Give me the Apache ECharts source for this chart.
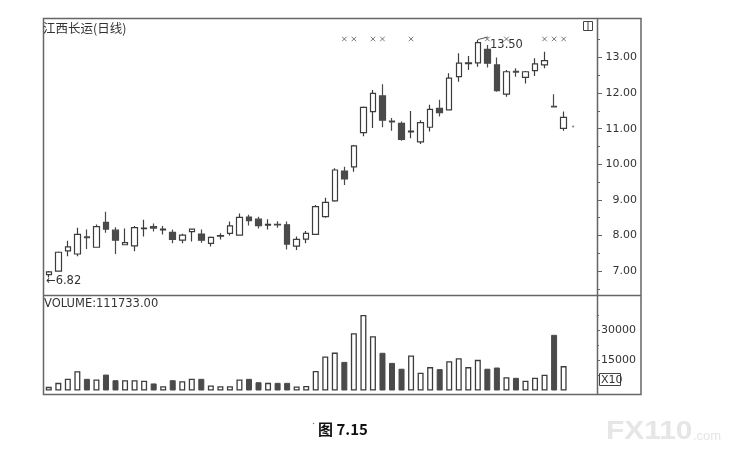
<!DOCTYPE html>
<html><head><meta charset="utf-8">
<script src="https://cdn.jsdelivr.net/npm/echarts@6.0.0/dist/echarts.min.js"></script>
<style>html,body{margin:0;padding:0;background:#fff}#c{width:731px;height:456px}</style>
</head><body><div id="c"></div>
<script>
// ---- data ----
const categories = ['1','2','3','4','5','6','7','8','9','10','11','12','13','14','15','16','17','18','19','20',
  '21','22','23','24','25','26','27','28','29','30','31','32','33','34','35','36','37','38','39','40',
  '41','42','43','44','45','46','47','48','49','50','51','52','53','54','55','56','57','58'];
const opens  = [6.90,7.00,7.57,7.48,7.96,7.67,8.37,8.15,7.74,7.71,8.19,8.25,8.16,8.09,7.87,8.11,8.04,7.78,7.98,8.06,
  8.01,8.52,8.46,8.29,8.31,8.30,7.70,7.90,8.03,8.53,8.97,9.81,9.93,10.89,11.48,11.92,11.21,11.15,10.91,10.63,
  11.04,11.57,11.53,12.46,12.83,12.85,13.23,12.79,11.97,12.61,12.44,12.63,12.79,11.63,11.01];
const closes = [6.98,7.53,7.68,8.03,7.94,8.25,8.18,7.87,7.80,8.22,8.21,8.21,8.18,7.89,8.01,8.18,7.87,7.95,8.00,8.27,
  8.51,8.42,8.28,8.31,8.30,7.76,7.89,8.06,8.81,8.93,9.84,9.59,10.52,11.60,11.99,11.24,11.19,10.70,10.93,11.17,
  11.54,11.45,12.42,12.84,12.85,13.42,12.84,12.07,12.60,12.59,12.60,12.82,12.91,11.61,11.32];
const lows   = [6.82,6.98,7.42,7.42,7.62,7.66,8.08,7.48,7.73,7.56,7.97,8.11,8.03,7.78,7.78,7.83,7.80,7.69,7.89,8.00,
  8.00,8.28,8.20,8.17,8.22,7.61,7.59,7.78,8.02,8.50,8.95,9.42,9.79,10.79,11.02,11.04,10.94,10.66,10.73,10.57,
  10.92,11.34,11.52,12.32,12.65,12.74,12.72,12.04,11.90,12.46,12.27,12.48,12.70,11.60,10.94];
const highs  = [7.00,7.55,7.85,8.22,8.17,8.31,8.67,8.23,8.20,8.27,8.44,8.34,8.27,8.17,8.05,8.19,8.17,7.97,8.06,8.39,
  8.62,8.58,8.53,8.46,8.40,8.39,7.97,8.13,8.86,9.06,9.89,9.93,10.54,11.62,12.09,12.25,11.30,11.20,11.50,11.24,
  11.67,11.81,12.56,13.12,13.04,13.50,13.35,13.00,12.65,12.70,12.62,12.98,13.16,11.97,11.48];
const volumes = [1800,3800,5800,9600,5800,5500,7900,5100,5100,5100,4800,3500,2100,5100,4600,5800,5800,2500,2100,2100,
  5500,5800,4100,3800,3800,3800,2000,2200,9700,16900,18800,14200,28400,37500,26900,18700,13700,10800,17400,8800,
  11600,10600,14500,16000,11600,15200,10800,11400,6600,6300,4800,6300,7800,27600,12100];
const crossMarkIdx = [31,32,34,35,38,46,48,52,53,54];
const crossMarkLevel = 13.52;
const dotPoint = [55, 11.06];
const priceLabels = [7,8,9,10,11,12,13];
const priceMinorTicks = [6.5,7.5,8.5,9.5,10.5,11.5,12.5,13.5];
const volLabels = [15000,30000];
const volMinorTicks = [7500,22500,37500];
const lowLabel = '6.82';
const highLabel = '13.50';
const volumeText = 'VOLUME:111733.00';
const titleText = '江西长运(日线)';
const captionText = '图 7.15';

// ---- style ----
const INK = '#3c3c3c', DARK = '#4a4a4a', FRAME = '#666';
const NUMFONT = '"DejaVu Sans", sans-serif';

const candleData = opens.map((o, i) => [o, closes[i], lows[i], highs[i]]);
const volData = volumes.map((v, i) => {
  const up = closes[i] >= opens[i];
  return { value: v, itemStyle: up ? { color: '#fff', borderColor: INK, borderWidth: 1.3 } : { color: DARK, borderColor: DARK, borderWidth: 1 } };
});

const chart = echarts.init(document.getElementById('c'), null, { renderer: 'canvas' });
const option = {
  animation: false,
  backgroundColor: '#fff',
  grid: [
    { left: 44, right: 134, top: 19, height: 276 },
    { left: 44, right: 134, top: 296, height: 94.5 }
  ],
  xAxis: [
    { type: 'category', data: categories, gridIndex: 0, show: false, boundaryGap: true },
    { type: 'category', data: categories, gridIndex: 1, show: false, boundaryGap: true }
  ],
  yAxis: [
    { type: 'value', gridIndex: 0, position: 'right', min: 6.329, max: 14.081, scale: true,
      splitLine: { show: false }, axisLine: { show: false },
      axisTick: { show: true, length: 5, inside: false, customValues: priceLabels, lineStyle: { color: FRAME, width: 1 } },
      axisLabel: { customValues: priceLabels, formatter: v => v.toFixed(2), align: 'right', margin: 40,
        color: '#333', fontSize: 11, fontFamily: NUMFONT } },
    { type: 'value', gridIndex: 0, position: 'right', min: 6.329, max: 14.081, scale: true,
      splitLine: { show: false }, axisLine: { show: false },
      axisTick: { show: true, length: 3, customValues: priceMinorTicks, lineStyle: { color: FRAME, width: 1 } },
      axisLabel: { show: false } },
    { type: 'value', gridIndex: 1, position: 'right', min: 0, max: 46860,
      splitLine: { show: false }, axisLine: { show: false },
      axisTick: { show: true, length: 3, customValues: volLabels, lineStyle: { color: FRAME, width: 1 } },
      axisLabel: { customValues: volLabels, formatter: v => String(v), align: 'left', margin: 4,
        color: '#333', fontSize: 11, fontFamily: NUMFONT } },
    { type: 'value', gridIndex: 1, position: 'right', min: 0, max: 46860,
      splitLine: { show: false }, axisLine: { show: false },
      axisTick: { show: true, length: 2, customValues: volMinorTicks, lineStyle: { color: FRAME, width: 1 } },
      axisLabel: { show: false } }
  ],
  series: [
    { type: 'candlestick', xAxisIndex: 0, yAxisIndex: 0, data: candleData, barWidth: 6,
      itemStyle: { color: '#fff', color0: DARK, borderColor: INK, borderColor0: DARK, borderWidth: 1.2 } },
    { type: 'bar', xAxisIndex: 1, yAxisIndex: 2, data: volData, barWidth: 6 },
    { type: 'scatter', xAxisIndex: 0, yAxisIndex: 0,
      data: crossMarkIdx.map(i => [i, crossMarkLevel]),
      symbol: 'path://M0,0L10,10M10,0L0,10', symbolSize: 4.5,
      itemStyle: { color: 'none', borderColor: '#555', borderWidth: 1 } },
    { type: 'scatter', xAxisIndex: 0, yAxisIndex: 0, data: [dotPoint], symbol: 'circle', symbolSize: 2,
      itemStyle: { color: '#555' } }
  ],
  graphic: [
    // frame
    { type: 'rect', shape: { x: 43.5, y: 18.5, width: 597.5, height: 376 }, style: { fill: 'none', stroke: FRAME, lineWidth: 1.5 }, z: 100 },
    { type: 'line', shape: { x1: 597.5, y1: 18.5, x2: 597.5, y2: 394.5 }, style: { stroke: FRAME, lineWidth: 1.5 }, z: 100 },
    { type: 'line', shape: { x1: 43.5, y1: 295.5, x2: 641, y2: 295.5 }, style: { stroke: FRAME, lineWidth: 1.5 }, z: 100 },
    // small window icon
    { type: 'rect', shape: { x: 583.5, y: 21.5, width: 9, height: 9 }, style: { fill: '#fff', stroke: '#444', lineWidth: 1 }, z: 100 },
    { type: 'line', shape: { x1: 588, y1: 21.5, x2: 588, y2: 30.5 }, style: { stroke: '#444', lineWidth: 1 }, z: 100 },
    // texts
    { type: 'text', x: 43, y: 28, style: { text: titleText, fill: '#333', font: '12.5px "Noto Sans CJK SC", sans-serif', textVerticalAlign: 'middle' }, z: 100 },
    { type: 'text', x: 44, y: 304, style: { text: volumeText, fill: '#333', font: '11.5px ' + NUMFONT, textVerticalAlign: 'middle' }, z: 100 },
    { type: 'text', x: 46, y: 281.5, style: { text: '←' + lowLabel, fill: '#333', font: '11.5px ' + NUMFONT, textVerticalAlign: 'middle' }, z: 100 },
    { type: 'text', x: 490, y: 45.5, style: { text: highLabel, fill: '#333', font: '11.5px ' + NUMFONT, textVerticalAlign: 'middle' }, z: 100 },
    { type: 'line', shape: { x1: 478, y1: 39.5, x2: 488, y2: 37 }, style: { stroke: '#555', lineWidth: 1 }, z: 100 },
    // X10 box
    { type: 'rect', shape: { x: 599.5, y: 373.5, width: 21, height: 12 }, style: { fill: '#fff', stroke: '#444', lineWidth: 1 }, z: 100 },
    { type: 'text', x: 601, y: 380, style: { text: 'X10', fill: '#333', font: '11px ' + NUMFONT, textVerticalAlign: 'middle' }, z: 101 },
    // caption
    { type: 'circle', shape: { cx: 313.5, cy: 423.5, r: 0.7 }, style: { fill: '#777' } },
    { type: 'text', x: 318, y: 429, style: { text: captionText, fill: '#111', font: 'bold 15px "Noto Sans CJK SC", sans-serif', textVerticalAlign: 'middle' } },
    // watermark
    { type: 'text', x: 606, y: 432, scaleX: 1.15, style: { text: 'FX110', fill: '#e6e6e6', font: 'bold 26px "Liberation Sans", sans-serif', textVerticalAlign: 'middle' } },
    { type: 'text', x: 693, y: 436, style: { text: '.com', fill: '#e6e6e6', font: '13px "Liberation Sans", sans-serif', textVerticalAlign: 'middle' } }
  ]
};
chart.setOption(option);
</script>
</body></html>
